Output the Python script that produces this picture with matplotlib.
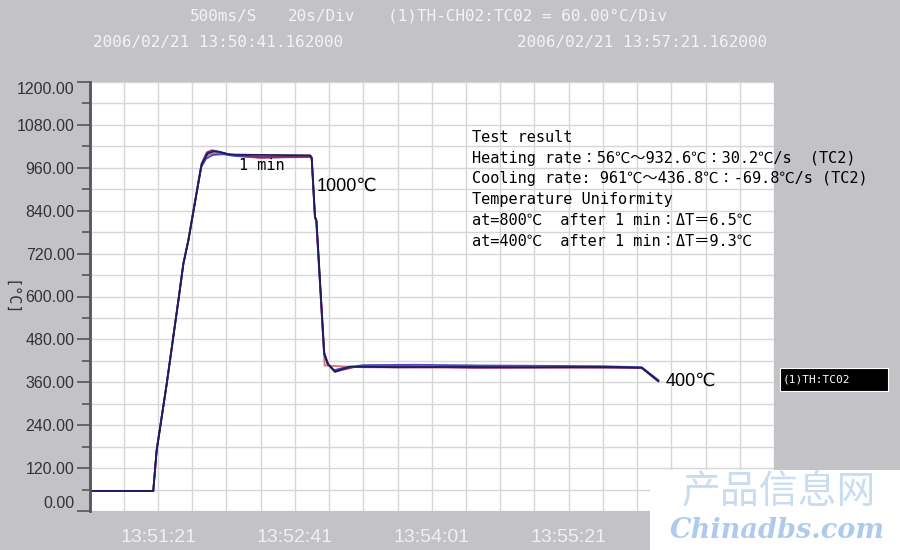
import numpy as np
import matplotlib.pyplot as plt
from matplotlib.patches import Rectangle

# time in s from 13:50:41, temperature in degC
tc1_t = [0, 37.2, 39.2, 45.1, 51.9, 54.8, 57.7, 65.5, 69.0, 72.5, 76.0, 82.1, 100, 128.9,
         129.8, 131.8, 132.6, 137.2, 139.0, 143.4, 147.0, 152.2, 180, 220, 260, 300, 322.7, 332.4]
tc1_T = [56, 56, 170, 356, 589, 691, 756, 970, 1000, 1006, 1004, 997, 996, 995,
         989, 821, 812, 440, 412, 390, 396, 404, 402, 403, 402, 403, 401, 364]

tc2_t = [0, 37.2, 39.2, 45.1, 51.9, 54.8, 57.7, 65.0, 68.0, 72.0, 78.0, 85.0, 100, 128.9,
         129.8, 131.6, 132.4, 137.0, 139.5, 143.0, 148.0, 160, 190, 230, 270, 300, 322.7, 332.4]
tc2_T = [56, 56, 172, 358, 590, 693, 758, 960, 985, 996, 998, 993, 989, 990,
         985, 825, 815, 445, 410, 394, 400, 408, 409, 407, 406, 405, 402, 366]

tc3_t = [0, 37.2, 39.2, 45.1, 51.9, 54.8, 57.7, 65.3, 68.5, 72.0, 77.0, 84.0, 100, 128.9,
         129.8, 131.8, 132.5, 137.4, 145.0, 160, 200, 240, 280, 310, 322.7, 332.4]
tc3_T = [56, 56, 168, 355, 588, 690, 755, 965, 993, 1001, 1000, 995, 987, 993,
         988, 818, 810, 407, 405, 402, 401, 400, 401, 402, 400, 362]

tc4_t = [0, 37.2, 39.2, 45.1, 51.9, 54.8, 57.7, 65.5, 68.5, 71.5, 75.0, 81.0, 100, 128.9,
         129.8, 131.7, 132.6, 137.1, 139.5, 143.4, 147.0, 155, 185, 225, 265, 300, 322.7, 332.4]
tc4_T = [56, 56, 170, 357, 590, 692, 757, 972, 1003, 1009, 1006, 998, 990, 993,
         988, 823, 813, 438, 410, 389, 394, 403, 405, 401, 402, 401, 400, 363]

series = [(tc3_t, tc3_T), (tc2_t, tc2_T), (tc4_t, tc4_T), (tc1_t, tc1_T)]
line_colors = ['#d8707a', '#4848c8', '#7a2c64', '#1c1c60']

x_ticks = [40, 120, 200, 280]
x_labels = ['13:51:21', '13:52:41', '13:54:01', '13:55:21']
y_ticks = np.arange(0, 1201, 120)

result_lines = ['Test result',
                'Heating rate\uff1a56\u2103\uff5e932.6\u2103\uff1a30.2\u2103/s  (TC2)',
                'Cooling rate: 961\u2103\uff5e436.8\u2103\uff1a-69.8\u2103/s (TC2)',
                'Temperature Uniformity',
                'at=800\u2103  after 1 min\uff1a\u0394T\uff1d6.5\u2103',
                'at=400\u2103  after 1 min\uff1a\u0394T\uff1d9.3\u2103']

bg = '#c3c2c7'
W, H = 900.0, 550.0

fig = plt.figure(figsize=(9, 5.5), dpi=100, facecolor=bg)
ax = fig.add_axes([89.6 / W, (H - 511) / H, 684.4 / W, 429 / H])
ax.set_facecolor('white')

for (t, T), c in zip(series, line_colors):
    ax.plot(t, T, color=c, lw=1.3)

ax.set_xlim(0, 400)
ax.set_ylim(0, 1200)
ax.set_xticks(x_ticks)
ax.set_xticklabels(x_labels, family='Liberation Sans')
ax.set_xticks(np.arange(0, 401, 20), minor=True)
ax.set_yticks(y_ticks)
ax.set_yticklabels(['%.2f' % v for v in y_ticks], family='Liberation Sans')
ax.set_yticks(np.arange(0, 1201, 60), minor=True)
ax.grid(which='both', color='#d6d6d6', lw=1)
ax.set_axisbelow(True)

ax.tick_params(axis='x', which='both', length=0, pad=13, labelcolor='#f0f0f0', labelsize=14)
ax.tick_params(axis='y', which='major', length=9.4, width=1.2, color='#555555',
               labelsize=11.5, labelcolor='#333333', pad=1.5)
ax.tick_params(axis='y', which='minor', length=5.8, width=1.2, color='#555555')
for s in ['top', 'right', 'bottom']:
    ax.spines[s].set_visible(False)
ax.spines['left'].set_color('#555555')
ax.spines['left'].set_linewidth(2)

ylabs = ax.get_yticklabels()
ylabs[0].set_va('bottom')
ylabs[-1].set_va('top')

fig.text(10 / W, 1 - 298 / H, '[\u00b0C]', rotation=-90, ha='center', va='center',
         fontsize=11, color='#333333', family='DejaVu Sans Mono')

# annotations
mono = ['DejaVu Sans Mono', 'Noto Sans CJK JP']
ax.text(100.8, 966, '1 min', ha='center', va='center', fontsize=11, family=mono)
ax.text(132.4, 907, '1000\u2103', ha='left', va='center', fontsize=13,
        family=['Liberation Sans', 'DejaVu Sans'])
ax.text(336.9, 363, '400\u2103', ha='left', va='center', fontsize=13,
        family=['Liberation Sans', 'DejaVu Sans'])
for i, s in enumerate(result_lines):
    ax.text(223.5, 1046 - i * 58.6, s, ha='left', va='center', fontsize=11, family=mono)

# header
hdr = dict(color='#f4f4f4', fontsize=11.5, family='DejaVu Sans Mono', va='center')
fig.text(190 / W, 1 - 16 / H, '500ms/S', **hdr)
fig.text(288 / W, 1 - 16 / H, '20s/Div', **hdr)
fig.text(388 / W, 1 - 16 / H, '(1)TH-CH02:TC02 = 60.00\u00b0C/Div', **hdr)
fig.text(93 / W, 1 - 42 / H, '2006/02/21 13:50:41.162000', **hdr)
fig.text(517 / W, 1 - 42 / H, '2006/02/21 13:57:21.162000', **hdr)

# channel box
fig.patches.append(Rectangle((780 / W, 1 - 391 / H), 108 / W, 23 / H, transform=fig.transFigure,
                             facecolor='black', edgecolor='white', lw=0.8))
fig.text(783 / W, 1 - 380 / H, '(1)TH:TC02', color='white', fontsize=8,
         family='DejaVu Sans Mono', va='center')

# watermark
fig.patches.append(Rectangle((650 / W, 0), 250 / W, 80 / H, transform=fig.transFigure,
                             facecolor='white', edgecolor='none'))
fig.text(779 / W, 1 - 492 / H, '\u4ea7\u54c1\u4fe1\u606f\u7f51', color='#c9dcf1', fontsize=28,
         family='Noto Sans CJK SC', ha='center', va='center')
fig.text(777 / W, 1 - 530 / H, 'Chinadbs.com', color='#aecbee', fontsize=19.5,
         family='DejaVu Serif', weight='bold', style='italic', ha='center', va='center')

fig.savefig('out.png', dpi=100, facecolor=bg)
